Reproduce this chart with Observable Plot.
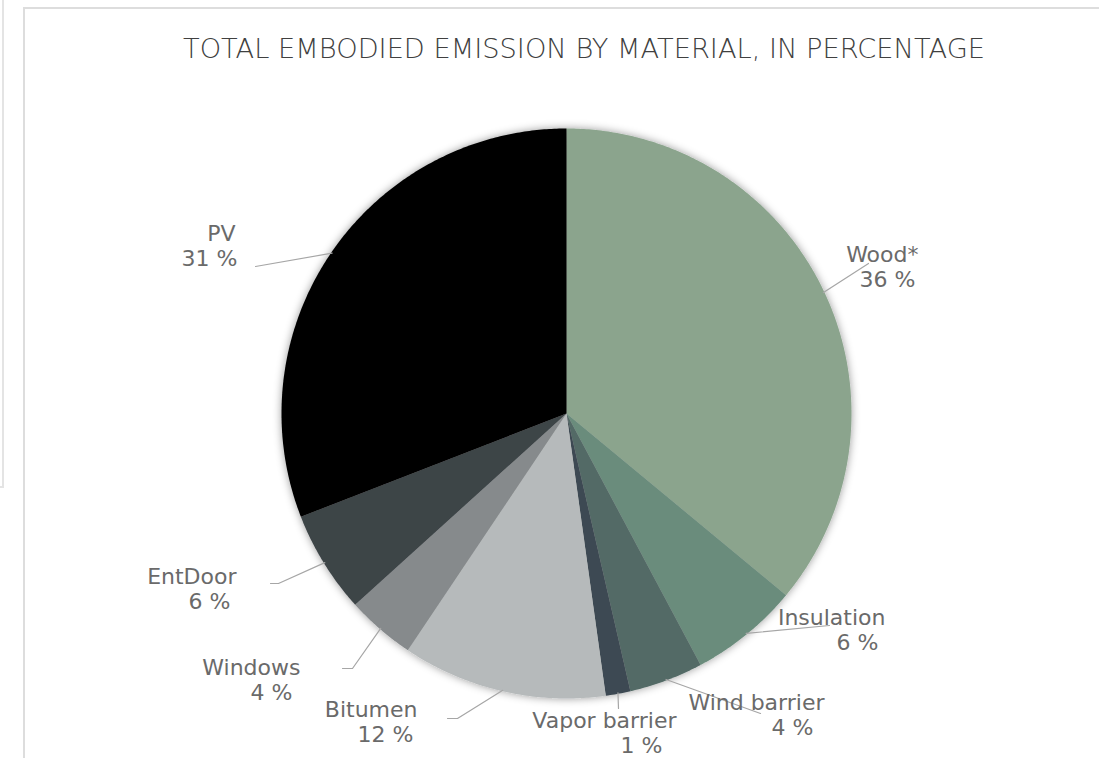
<!DOCTYPE html>
<html>
<head>
<meta charset="utf-8">
<script src="https://cdn.jsdelivr.net/npm/d3@7"></script>
<script src="https://cdn.jsdelivr.net/npm/@observablehq/plot@0.6"></script>
<style>
  html, body { margin: 0; padding: 0; background: #fff; width: 1099px; height: 758px; overflow: hidden; }
  #leftbox { position: absolute; left: 0; top: 0; width: 2px; height: 486px; border-right: 2px solid #e4e4e4; border-bottom: 2px solid #e4e4e4; }
  #frame { position: absolute; left: 23px; top: 7px; right: -2px; bottom: -2px; border-left: 2px solid #dddddd; border-top: 2px solid #dddddd; }
  #title { position: absolute; left: 0; top: 0; width: 1099px; height: 85px; }
  #title span { position: absolute; left: 584px; top: 32px; white-space: nowrap; font-family: "DejaVu Sans ExtraLight", "DejaVu Sans", sans-serif; font-weight: 200; font-size: 27px; line-height: 34px; color: #404040; transform-origin: 50% 50%; }
  #chart { position: absolute; left: 0; top: 85px; }
</style>
</head>
<body>
<div id="leftbox"></div>
<div id="frame"></div>
<div id="title"><span id="ttext">TOTAL EMBODIED EMISSION BY MATERIAL, IN PERCENTAGE</span></div>
<div id="chart"></div>
<script>
// ---- data ----
const materials = ["Wood*", "Insulation", "Wind barrier", "Vapor barrier", "Bitumen", "Windows", "EntDoor", "PV"];
const shares = [36.0, 6.2, 4.2, 1.4, 11.6, 3.9, 5.8, 30.9];
const pctLabels = ["36 %", "6 %", "4 %", "1 %", "12 %", "4 %", "6 %", "31 %"];
const sliceColors = ["#8ba48d", "#6a8c7c", "#536a66", "#3e4a52", "#b6babb", "#868a8c", "#3d4447", "#000000"];

// ---- layout (label placement, offsets from pie centre in px) ----
const R = 285;
const nameAt = [[352,-159],[319,204],[258,289],[110,307],[-149,296],[-266,254],[-330,163],[-331,-180]];
const pctAt  = [[349,-134],[312,229],[247,314],[96,332],[-153,321],[-274,279],[-336,188],[-329,-155]];
const leaderElbow = [null, null, null, null, [-109,305], [-214,255], [-288,170], null];
const leaderEnd = [[302,-150],[263,212],[194,300],[52,295],[-119,305],[-224,255],[-296,170],[-311,-147]];

const W = 1099, H = 673, cx = 566, cy = 328;

const arcs = d3.pie().sort(null).value(d => d)(shares);

// slice polygons built from the pie angles
const slicePts = [];
arcs.forEach((a, i) => {
  const n = Math.max(2, Math.ceil((a.endAngle - a.startAngle) / (Math.PI / 360)));
  slicePts.push({name: materials[i], color: sliceColors[i], x: 0, y: 0});
  for (let k = 0; k <= n; k++) {
    const t = a.startAngle + (a.endAngle - a.startAngle) * k / n;
    slicePts.push({name: materials[i], color: sliceColors[i], x: R * Math.sin(t), y: -R * Math.cos(t)});
  }
});

// leader lines
const leaderPts = [];
arcs.forEach((a, i) => {
  const m = (a.startAngle + a.endAngle) / 2;
  leaderPts.push({name: materials[i], x: (R - 1) * Math.sin(m), y: -(R - 1) * Math.cos(m)});
  if (leaderElbow[i]) leaderPts.push({name: materials[i], x: leaderElbow[i][0], y: leaderElbow[i][1]});
  leaderPts.push({name: materials[i], x: leaderEnd[i][0], y: leaderEnd[i][1]});
});

const nameRows = materials.map((m, i) => ({text: m, x: nameAt[i][0], y: nameAt[i][1]}));
const pctRows = pctLabels.map((p, i) => ({text: p, x: pctAt[i][0], y: pctAt[i][1]}));

const font = "'DejaVu Sans', sans-serif";

const plot = Plot.plot({
  width: W,
  height: H,
  margin: 0,
  style: {background: "transparent"},
  x: {domain: [-cx, W - cx], range: [0, W], axis: null},
  y: {domain: [-cy, H - cy], range: [0, H], axis: null},
  color: {type: "identity"},
  marks: [
    Plot.line(slicePts, {x: "x", y: "y", z: "name", fill: "color", stroke: "none", curve: "linear-closed"}),
    Plot.line(leaderPts, {x: "x", y: "y", z: "name", stroke: "#a6a6a6", strokeWidth: 1.2, fill: "none"}),
    Plot.text(nameRows, {x: "x", y: "y", text: "text", textAnchor: "end", fill: "#6a6a6a", fontSize: 22, fontFamily: font}),
    Plot.text(pctRows, {x: "x", y: "y", text: "text", textAnchor: "end", fill: "#6a6a6a", fontSize: 22, fontFamily: font})
  ]
});

// soft shadow around the pie
const svg = d3.select(plot);
const defs = svg.insert("defs", ":first-child");
const f = defs.append("filter").attr("id", "pieShadow").attr("x", "-10%").attr("y", "-10%").attr("width", "120%").attr("height", "120%");
f.append("feDropShadow").attr("dx", 0).attr("dy", 0).attr("stdDeviation", 4).attr("flood-color", "#000").attr("flood-opacity", 0.4);
const groups = plot.querySelectorAll('g[aria-label="line"]');
if (groups.length) groups[0].setAttribute("filter", "url(#pieShadow)");

document.getElementById("chart").appendChild(plot);

// fit title to its width in the reference
const tt = document.getElementById("ttext");
const w = tt.getBoundingClientRect().width;
tt.style.transform = `translateX(-50%) scaleX(${802 / w})`;
</script>
</body>
</html>
